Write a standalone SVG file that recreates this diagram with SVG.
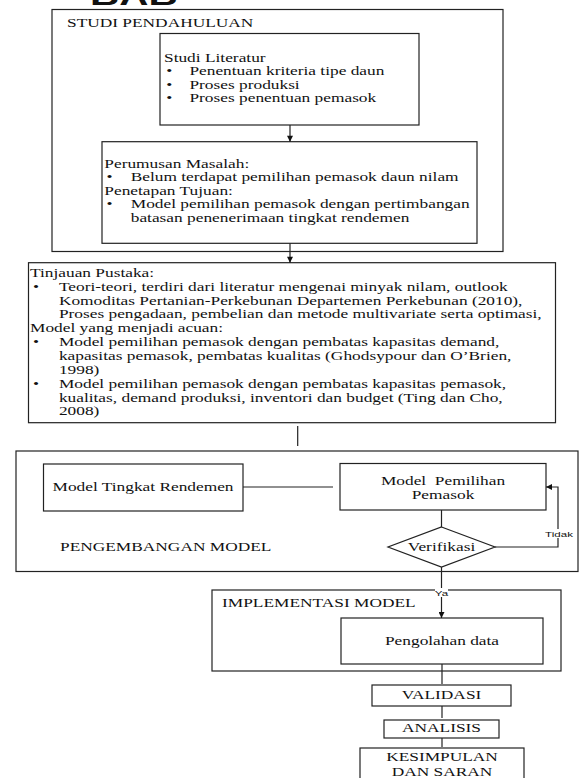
<svg xmlns="http://www.w3.org/2000/svg" width="581" height="778" viewBox="0 0 581 778">
<style>
.b{fill:#fff;stroke:#222;stroke-width:1.2}
.l{fill:none;stroke:#222;stroke-width:1.2}
.t{font-family:"Liberation Serif","Times New Roman",serif;font-size:12px;fill:#111}
.m{text-anchor:middle}
.s{font-family:"Liberation Sans",Arial,sans-serif;font-size:8px;fill:#111;text-anchor:middle}
.h{font-family:"Liberation Sans",Arial,sans-serif;font-size:28px;font-weight:bold;fill:#111}
</style>
<defs>
<marker id="ah" viewBox="0 0 10 10" refX="10" refY="5" markerWidth="7" markerHeight="6" markerUnits="userSpaceOnUse" orient="auto"><path d="M0,0 L10,5 L0,10 z" fill="#111"/></marker>
</defs>
<rect width="581" height="778" fill="#fff"/>
<g id="title" transform="translate(90,0) scale(1.445,1)"><text class="h" x="0" y="4.5">BAB</text></g>

<g id="studi-pendahuluan">
<rect class="b" x="52" y="9.5" width="451" height="242"/>
<g transform="translate(67,0) scale(1.445,1)"><text class="t" x="0" y="27">STUDI PENDAHULUAN</text></g>
</g>

<g id="studi-literatur">
<rect class="b" x="160" y="33.5" width="259" height="91.5"/>
<g transform="translate(164,0) scale(1.445,1)">
<text class="t" x="0" y="62">Studi Literatur</text>
<text class="t" x="1.5" y="75.5">•</text><text class="t" x="17.6" y="75.5">Penentuan kriteria tipe daun</text>
<text class="t" x="1.5" y="89">•</text><text class="t" x="17.6" y="89">Proses produksi</text>
<text class="t" x="1.5" y="102.5">•</text><text class="t" x="17.6" y="102.5">Proses penentuan pemasok</text>
</g>
</g>

<g id="perumusan">
<rect class="b" x="102" y="141.7" width="375" height="101.6"/>
<g transform="translate(104.3,0) scale(1.445,1)">
<text class="t" x="0" y="168">Perumusan Masalah:</text>
<text class="t" x="1.5" y="181.5">•</text><text class="t" x="18.3" y="181.5">Belum terdapat pemilihan pemasok daun nilam</text>
<text class="t" x="0" y="195">Penetapan Tujuan:</text>
<text class="t" x="1.5" y="208.5">•</text><text class="t" x="18.3" y="208.5">Model pemilihan pemasok dengan pertimbangan</text>
<text class="t" x="18.3" y="222">batasan penenerimaan tingkat rendemen</text>
</g>
</g>

<g id="tinjauan">
<rect class="b" x="28.5" y="262.7" width="527" height="160"/>
<g transform="translate(30,0) scale(1.445,1)">
<text class="t" x="0" y="277">Tinjauan Pustaka:</text>
<text class="t" x="2" y="291">•</text><text class="t" x="20" y="291">Teori-teori, terdiri dari literatur mengenai minyak nilam, outlook</text>
<text class="t" x="20" y="305">Komoditas Pertanian-Perkebunan Departemen Perkebunan (2010),</text>
<text class="t" x="20" y="318.5">Proses pengadaan, pembelian dan metode multivariate serta optimasi,</text>
<text class="t" x="0" y="332">Model yang menjadi acuan:</text>
<text class="t" x="2" y="346">•</text><text class="t" x="20" y="346">Model pemilihan pemasok dengan pembatas kapasitas demand,</text>
<text class="t" x="20" y="360">kapasitas pemasok, pembatas kualitas (Ghodsypour dan O’Brien,</text>
<text class="t" x="20" y="374">1998)</text>
<text class="t" x="2" y="388">•</text><text class="t" x="20" y="388">Model pemilihan pemasok dengan pembatas kapasitas pemasok,</text>
<text class="t" x="20" y="402">kualitas, demand produksi, inventori dan budget (Ting dan Cho,</text>
<text class="t" x="20" y="415.5">2008)</text>
</g>
</g>

<g id="pengembangan">
<rect class="b" x="16" y="451" width="562" height="120.5"/>
<g transform="translate(60,0) scale(1.445,1)"><text class="t" x="0" y="551">PENGEMBANGAN MODEL</text></g>
</g>

<g id="model-tingkat">
<rect class="b" x="43.5" y="464" width="199.5" height="47"/>
<g transform="translate(143,0) scale(1.445,1)"><text class="t m" x="0" y="491.5">Model Tingkat Rendemen</text></g>
</g>

<g id="model-pemilihan">
<rect class="b" x="340" y="463.5" width="206" height="46.5"/>
<g transform="translate(443,0) scale(1.445,1)">
<text class="t m" x="0" y="485" xml:space="preserve">Model  Pemilihan</text>
<text class="t m" x="0" y="499">Pemasok</text>
</g>
</g>

<g id="verifikasi">
<polygon class="b" points="441.5,527 495,547 441.5,567 388,547"/>
<g transform="translate(441.5,0) scale(1.445,1)"><text class="t m" x="0" y="551">Verifikasi</text></g>
</g>

<g id="implementasi">
<rect class="b" x="212" y="590" width="349" height="81"/>
<g transform="translate(222,0) scale(1.445,1)"><text class="t" x="0" y="607">IMPLEMENTASI MODEL</text></g>
</g>

<g id="pengolahan">
<rect class="b" x="341" y="618" width="202" height="46"/>
<g transform="translate(442,0) scale(1.445,1)"><text class="t m" x="0" y="645">Pengolahan data</text></g>
</g>

<g id="validasi">
<rect class="b" x="372" y="685" width="139" height="21"/>
<g transform="translate(441.5,0) scale(1.445,1)"><text class="t m" x="0" y="699.5">VALIDASI</text></g>
</g>

<g id="analisis">
<rect class="b" x="384" y="720" width="115" height="18"/>
<g transform="translate(441.5,0) scale(1.445,1)"><text class="t m" x="0" y="732.5">ANALISIS</text></g>
</g>

<g id="kesimpulan">
<rect class="b" x="360" y="748" width="164" height="40"/>
<g transform="translate(442,0) scale(1.445,1)">
<text class="t m" x="0" y="761">KESIMPULAN</text>
<text class="t m" x="0" y="776">DAN SARAN</text>
</g>
</g>

<g id="connectors">
<line class="l" x1="290" y1="125" x2="290" y2="141.7" marker-end="url(#ah)"/>
<line class="l" x1="290" y1="243.3" x2="290" y2="262.7" marker-end="url(#ah)"/>
<line class="l" x1="297.7" y1="426" x2="297.7" y2="446"/>
<line class="l" x1="243" y1="487" x2="333" y2="487"/>
<line class="l" x1="441.5" y1="510" x2="441.5" y2="527"/>
<polyline class="l" points="495,547 558,547 558,487 546,487" marker-end="url(#ah)"/>
<line class="l" x1="441.5" y1="567" x2="441.5" y2="618" marker-end="url(#ah)"/>
<line class="l" x1="442" y1="664" x2="442" y2="684"/>
<line class="l" x1="442" y1="706" x2="442" y2="718"/>
<line class="l" x1="442" y1="738" x2="442" y2="747"/>
<rect x="550" y="529" width="17" height="9" fill="#fff"/>
<g transform="translate(559,0) scale(1.445,1)"><text class="s" x="0" y="537">Tidak</text></g>
<rect x="435" y="588" width="13" height="9" fill="#fff"/>
<g transform="translate(441.5,0) scale(1.445,1)"><text class="s" x="0" y="596">Ya</text></g>
</g>
</svg>
